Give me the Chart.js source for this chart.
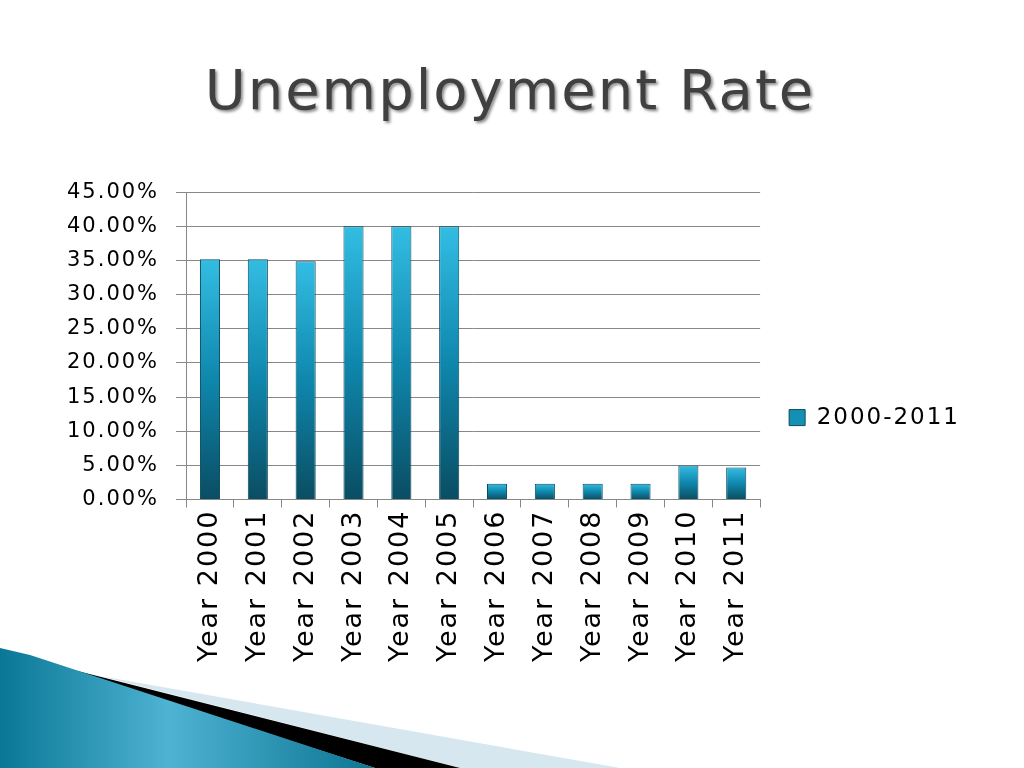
<!DOCTYPE html>
<html>
<head>
<meta charset="utf-8">
<script src="https://cdn.jsdelivr.net/npm/chart.js@4.4.0/dist/chart.umd.min.js"></script>
<style>
  html, body { margin: 0; padding: 0; background: #fff; }
  #wrap { position: relative; width: 1024px; height: 768px; overflow: hidden; }
  #deco { position: absolute; left: 0; top: 0; }
  #myChart { position: absolute; left: 0; top: 0; }
</style>
</head>
<body>
<div id="wrap">
  <svg id="deco" width="1024" height="768">
    <defs>
      <linearGradient id="tealg" x1="0" y1="0" x2="1" y2="0">
        <stop offset="0" stop-color="#0a7796"/>
        <stop offset="0.45" stop-color="#4fb3d3"/>
        <stop offset="1" stop-color="#0b7592"/>
      </linearGradient>
    </defs>
    <polygon points="100,676 620,768 460,768" fill="#d6e7ef"/>
    <polygon points="50,664 460,768 375,768" fill="#000"/>
    <polygon points="0,648 30,655 375,768 0,768" fill="url(#tealg)"/>
  </svg>
  <canvas id="myChart" width="1024" height="768"></canvas>
</div>
<script>
const categorias = ['Year 2000', 'Year 2001', 'Year 2002', 'Year 2003', 'Year 2004', 'Year 2005',
                    'Year 2006', 'Year 2007', 'Year 2008', 'Year 2009', 'Year 2010', 'Year 2011'];
const valores = [35.2, 35.2, 34.9, 40.0, 40.0, 40.0, 2.3, 2.3, 2.3, 2.3, 5.0, 4.7];
const nomeSerie = '2000-2011';
const titulo = 'Unemployment Rate';

function corBarra(context) {
  const chart = context.chart;
  if (!chart.chartArea || context.parsed === undefined) return '#1b8fb3';
  const y = chart.scales.y;
  const topo = y.getPixelForValue(context.parsed.y);
  const base = y.getPixelForValue(0);
  if (!isFinite(topo) || base - topo < 1) return '#1b8fb3';
  const g = chart.ctx.createLinearGradient(0, topo, 0, base);
  g.addColorStop(0, '#33bde3');
  g.addColorStop(0.5, '#0f87ad');
  g.addColorStop(1, '#0a4d62');
  return g;
}

// espaco entre letras + sombra no titulo
const espacamento = {
  id: 'espacamento',
  beforeUpdate(chart) { chart.ctx.letterSpacing = '2px'; },
  beforeDraw(chart) { chart.ctx.letterSpacing = '2px'; },
  afterLayout(chart) {
    const t = chart.titleBlock;
    if (t && !t._comSombra) {
      const desenhar = t.draw.bind(t);
      t.draw = function () {
        const c = chart.ctx;
        c.save();
        c.shadowColor = 'rgba(0,0,0,0.45)';
        c.shadowOffsetX = 2;
        c.shadowOffsetY = 2;
        c.shadowBlur = 3;
        desenhar();
        c.restore();
      };
      t._comSombra = true;
    }
  }
};

const ctx = document.getElementById('myChart');
new Chart(ctx, {
  type: 'bar',
  data: {
    labels: categorias,
    datasets: [{
      label: nomeSerie,
      data: valores,
      backgroundColor: corBarra,
      borderColor: '#0b4a5c',
      borderWidth: 1,
      barPercentage: 0.42,
      categoryPercentage: 1
    }]
  },
  options: {
    responsive: false,
    animation: false,
    layout: { padding: { left: 50, right: 54, top: 10, bottom: 104 } },
    plugins: {
      title: {
        display: true,
        text: titulo,
        color: '#404040',
        font: { family: 'DejaVu Sans', size: 56, weight: 'normal' },
        padding: { top: 51, bottom: 64 }
      },
      legend: {
        position: 'right',
        title: { display: true, text: ' ', font: { size: 1 }, padding: { top: 160, bottom: 0 } },
        labels: {
          color: '#000',
          font: { family: 'DejaVu Sans', size: 23 },
          boxWidth: 16,
          boxHeight: 16,
          padding: 29,
          generateLabels: function () {
            return [{ text: nomeSerie, fillStyle: '#1590b5', strokeStyle: '#0b4a5c', fontColor: '#000',
                      lineWidth: 1, hidden: false, datasetIndex: 0 }];
          }
        }
      },
      tooltip: { enabled: false }
    },
    scales: {
      x: {
        grid: { display: true, drawOnChartArea: false, color: '#888', tickLength: 8, offset: true },
        border: { color: '#888' },
        ticks: {
          color: '#000',
          font: { family: 'DejaVu Sans', size: 27 },
          maxRotation: 90,
          minRotation: 90,
          padding: 2
        }
      },
      y: {
        min: 0,
        max: 45,
        grid: { color: '#888', tickLength: 10 },
        border: { color: '#888' },
        ticks: {
          stepSize: 5,
          color: '#000',
          font: { family: 'DejaVu Sans', size: 21 },
          padding: 17,
          callback: function (v) { return v.toFixed(2) + '%'; }
        }
      }
    }
  },
  plugins: [espacamento]
});
</script>
</body>
</html>
